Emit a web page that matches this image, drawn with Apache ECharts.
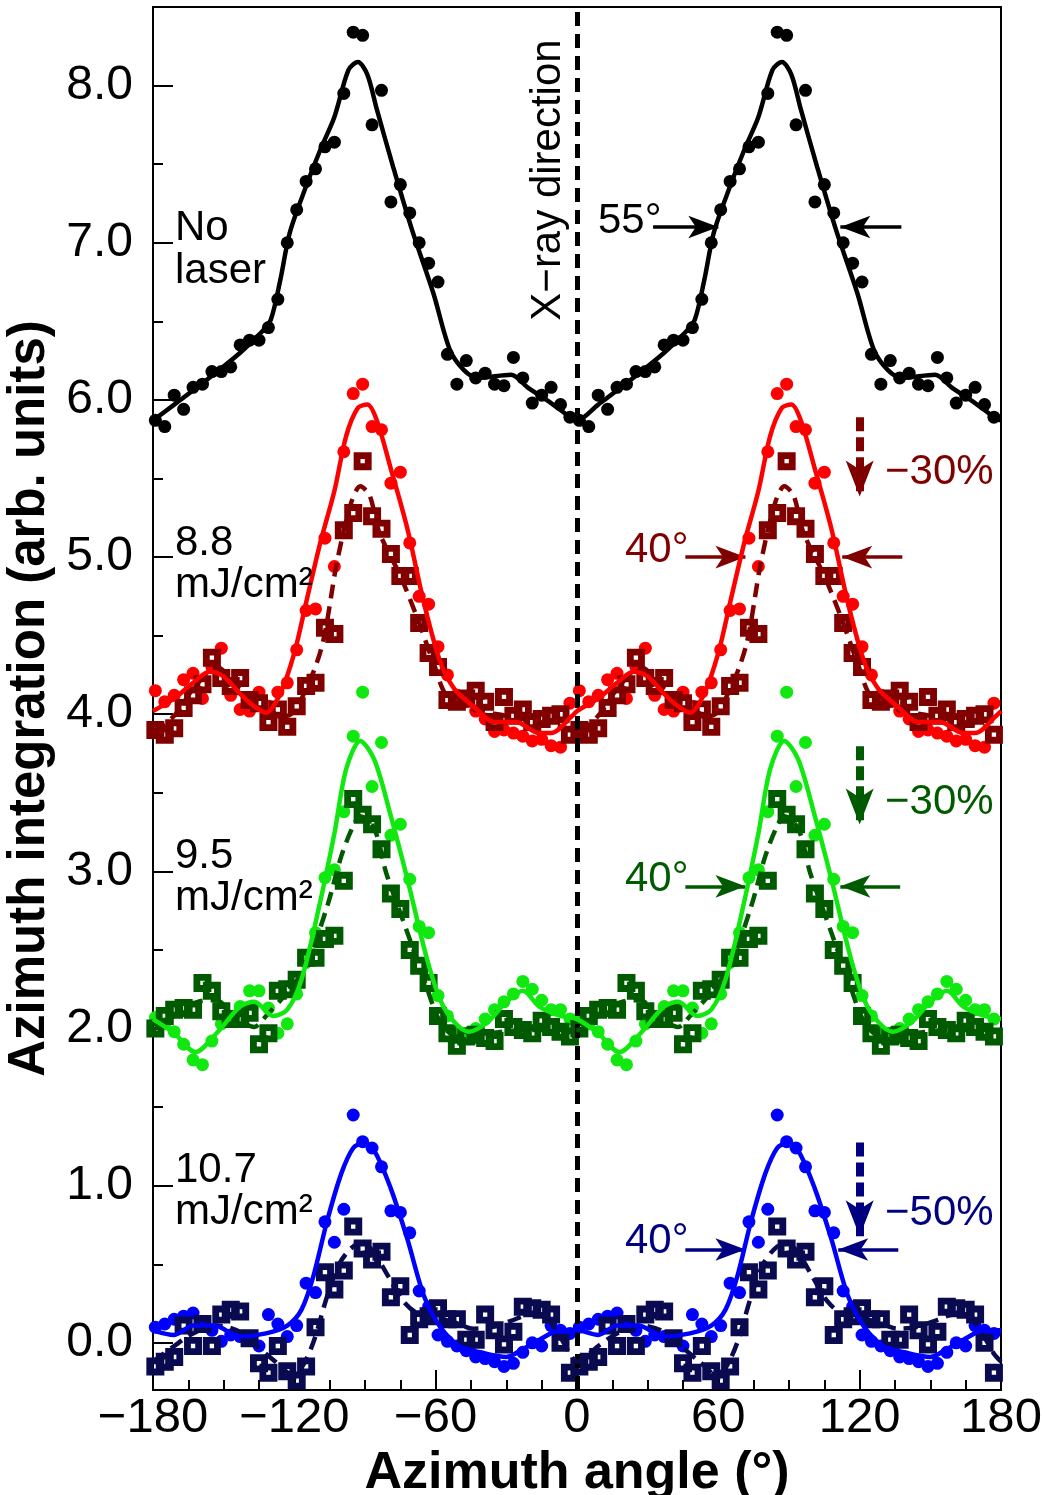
<!DOCTYPE html>
<html><head><meta charset="utf-8">
<script src="https://cdn.jsdelivr.net/npm/echarts@6/dist/echarts.min.js"></script>
<style>html,body{margin:0;padding:0;background:#fff}#c{width:1045px;height:1495px}</style>
</head><body><div id="c"></div>
<script>
// ---- data ----
const ANGLES = [-179,-175,-171,-167,-163,-159,-155,-151,-147,-143,-139,-135,-131,-127,-123,-119,-115,-111,-107,-103,-99,-95,-91,-87,-83,-79,-75,-71,-67,-63,-59,-55,-51,-47,-43,-39,-35,-31,-27,-23,-19,-15,-11,-7,-3,
 1,5,9,13,17,21,25,29,33,37,41,45,49,53,57,61,65,69,73,77,81,85,89,93,97,101,105,109,113,117,121,125,129,133,137,141,145,149,153,157,161,165,169,173,177];
const X_TICKS = [-180,-120,-60,0,60,120,180];
const Y_TICKS = [0,1,2,3,4,5,6,7,8];

const NO_LASER = [5.87,5.83,6.03,5.94,6.08,6.10,6.18,6.18,6.21,6.35,6.38,6.38,6.46,6.64,7.00,7.21,7.39,7.47,7.61,7.64,7.95,8.34,8.32,7.75,7.97,7.26,7.37,7.19,7.00,6.87,6.75,6.29,6.10,6.25,6.14,6.17,6.10,6.09,6.27,6.14,5.98,6.03,6.08,5.97,5.89,
 5.87,5.83,6.03,5.94,6.08,6.10,6.18,6.18,6.21,6.35,6.38,6.38,6.46,6.64,7.00,7.21,7.39,7.47,7.61,7.64,7.95,8.34,8.32,7.75,7.97,7.26,7.37,7.19,7.00,6.87,6.75,6.29,6.10,6.25,6.14,6.17,6.10,6.09,6.27,6.14,5.98,6.03,6.08,5.97,5.89];
const F88_BEFORE = [4.15,4.08,4.12,4.22,4.26,4.10,4.30,4.42,4.12,4.03,4.02,4.14,4.05,4.14,4.20,4.41,4.66,4.67,5.12,4.94,5.67,6.04,6.10,5.83,5.81,5.47,5.54,5.09,4.75,4.70,4.43,4.25,4.12,4.08,4.02,3.97,3.89,3.90,3.88,3.86,3.83,3.84,3.80,3.79,4.07,
 4.15,4.08,4.12,4.22,4.26,4.10,4.30,4.42,4.12,4.03,4.02,4.14,4.05,4.14,4.20,4.41,4.66,4.67,5.12,4.94,5.67,6.04,6.10,5.83,5.81,5.47,5.54,5.09,4.75,4.70,4.43,4.25,4.12,4.08,4.02,3.97,3.89,3.90,3.88,3.86,3.83,3.84,3.80,3.79,4.07];
const F88_AFTER = [3.90,3.87,3.91,4.04,4.12,4.19,4.36,4.23,4.18,4.23,4.09,4.07,3.95,4.03,3.92,4.05,4.18,4.20,4.55,4.51,5.17,5.28,5.61,5.26,5.18,5.02,4.88,4.88,4.58,4.39,4.30,4.09,4.08,4.10,4.15,4.08,3.95,4.11,3.99,4.03,3.95,3.97,3.99,4.00,3.87,
 3.90,3.87,3.91,4.04,4.12,4.19,4.36,4.23,4.18,4.23,4.09,4.07,3.95,4.03,3.92,4.05,4.18,4.20,4.55,4.51,5.17,5.28,5.61,5.26,5.18,5.02,4.88,4.88,4.58,4.39,4.30,4.09,4.08,4.10,4.15,4.08,3.95,4.11,3.99,4.03,3.95,3.97,3.99,4.00,3.87];
const F95_BEFORE = [2.07,2.03,1.98,1.90,1.80,1.77,1.92,2.03,2.07,2.14,2.24,2.24,2.13,1.97,2.03,2.22,2.42,2.61,2.96,3.01,3.38,3.86,4.14,3.54,3.82,3.23,3.30,2.95,2.65,2.61,2.21,2.08,1.98,1.97,2.00,2.06,2.12,2.17,2.22,2.30,2.25,2.18,2.12,2.12,2.06,
 2.07,2.03,1.98,1.90,1.80,1.77,1.92,2.03,2.07,2.14,2.24,2.24,2.13,1.97,2.03,2.22,2.42,2.61,2.96,3.01,3.38,3.86,4.14,3.54,3.82,3.23,3.30,2.95,2.65,2.61,2.21,2.08,1.98,1.97,2.00,2.06,2.12,2.17,2.22,2.30,2.25,2.18,2.12,2.12,2.06];
const F95_AFTER = [2.00,2.08,2.12,2.13,2.12,2.29,2.24,2.11,2.06,2.06,2.10,1.90,1.97,2.24,2.25,2.31,2.45,2.45,2.57,2.59,2.94,3.46,3.36,3.30,3.14,2.86,2.76,2.50,2.40,2.29,2.08,1.97,1.89,1.95,1.96,1.94,1.92,2.06,2.01,1.99,1.97,2.05,2.01,1.98,1.95,
 2.00,2.08,2.12,2.13,2.12,2.29,2.24,2.11,2.06,2.06,2.10,1.90,1.97,2.24,2.25,2.31,2.45,2.45,2.57,2.59,2.94,3.46,3.36,3.30,3.14,2.86,2.76,2.50,2.40,2.29,2.08,1.97,1.89,1.95,1.96,1.94,1.92,2.06,2.01,1.99,1.97,2.05,2.01,1.98,1.95];
const F107_BEFORE = [0.10,0.12,0.15,0.17,0.19,0.13,0.08,0.01,0.05,0.04,0.03,-0.02,0.18,0.12,0.04,0.11,0.38,0.32,0.77,0.64,0.85,1.45,1.28,1.24,1.12,0.84,0.83,0.70,0.33,0.23,0.05,0.01,-0.02,-0.05,-0.09,-0.10,-0.12,-0.15,-0.13,-0.06,0.00,-0.02,0.11,0.08,0.06,
 0.10,0.12,0.15,0.17,0.19,0.13,0.08,0.01,0.05,0.04,0.03,-0.02,0.18,0.12,0.04,0.11,0.38,0.32,0.77,0.64,0.85,1.45,1.28,1.24,1.12,0.84,0.83,0.70,0.33,0.23,0.05,0.01,-0.02,-0.05,-0.09,-0.10,-0.12,-0.15,-0.13,-0.06,0.00,-0.02,0.11,0.08,0.06];
const F107_AFTER = [-0.15,-0.12,-0.09,0.11,-0.02,0.12,-0.02,0.18,0.21,0.20,0.03,-0.13,-0.19,-0.02,-0.18,-0.24,-0.15,0.10,0.45,0.34,0.46,0.74,0.60,0.53,0.58,0.29,0.36,0.05,0.15,0.17,0.22,0.15,0.15,0.02,0.02,0.18,0.08,-0.01,0.07,0.23,0.22,0.21,0.18,0.00,-0.19,
 -0.15,-0.12,-0.09,0.11,-0.02,0.12,-0.02,0.18,0.21,0.20,0.03,-0.13,-0.19,-0.02,-0.18,-0.24,-0.15,0.10,0.45,0.34,0.46,0.74,0.60,0.53,0.58,0.29,0.36,0.05,0.15,0.17,0.22,0.15,0.15,0.02,0.02,0.18,0.08,-0.01,0.07,0.23,0.22,0.21,0.18,0.00,-0.19];

// fitted curves: [angle, value]
const NO_LASER_FIT = [[-180,5.87],[-171,5.97],[-157,6.13],[-143,6.30],[-134,6.43],[-130,6.51],[-126,6.76],[-122,7.06],[-116,7.32],[-109,7.59],[-103,7.80],[-97,8.10],[-93,8.15],[-89,8.07],[-85,7.85],[-78,7.48],[-70,7.08],[-61,6.68],[-54,6.32],[-48,6.19],[-42,6.14],[-28,6.16],[-21,6.08],[-11,5.98],[-2,5.88],
 [0,5.87],[9,5.97],[23,6.13],[37,6.30],[46,6.43],[50,6.51],[54,6.76],[58,7.06],[64,7.32],[71,7.59],[77,7.80],[83,8.10],[87,8.15],[91,8.07],[95,7.85],[102,7.48],[110,7.08],[119,6.68],[126,6.32],[132,6.19],[138,6.14],[152,6.16],[159,6.08],[169,5.98],[178,5.88],[180,5.87]];
const F88_BEFORE_FIT = [[-180,4.02],[-171,4.10],[-163,4.20],[-156,4.27],[-150,4.24],[-143,4.13],[-137,4.05],[-132,4.01],[-126,4.13],[-120,4.39],[-115,4.71],[-109,5.09],[-103,5.42],[-98,5.77],[-93,5.95],[-89,5.97],[-85,5.87],[-79,5.56],[-72,5.18],[-65,4.71],[-58,4.33],[-52,4.16],[-44,4.05],[-35,3.95],[-26,3.95],[-16,3.88],[-11,3.88],[-2,3.99],
 [0,4.02],[9,4.10],[17,4.20],[24,4.27],[30,4.24],[37,4.13],[43,4.05],[48,4.01],[54,4.13],[60,4.39],[65,4.71],[71,5.09],[77,5.42],[82,5.77],[87,5.95],[91,5.97],[95,5.87],[101,5.56],[108,5.18],[115,4.71],[122,4.33],[128,4.16],[136,4.05],[145,3.95],[154,3.95],[164,3.88],[169,3.88],[178,3.99],[180,4.02]];
const F88_AFTER_FIT = [[-180,3.89],[-171,3.99],[-163,4.16],[-153,4.30],[-143,4.16],[-132,4.03],[-123,3.99],[-115,4.16],[-108,4.45],[-102,4.96],[-96,5.34],[-92,5.45],[-88,5.39],[-84,5.16],[-75,4.88],[-68,4.62],[-61,4.33],[-55,4.11],[-44,4.03],[-30,3.99],[-16,3.95],[-4,3.91],
 [0,3.89],[9,3.99],[17,4.16],[27,4.30],[37,4.16],[48,4.03],[57,3.99],[65,4.16],[72,4.45],[78,4.96],[84,5.34],[88,5.45],[92,5.39],[96,5.16],[105,4.88],[112,4.62],[119,4.33],[125,4.11],[136,4.03],[150,3.99],[164,3.95],[176,3.91],[180,3.89]];
const F95_BEFORE_FIT = [[-180,2.06],[-171,1.97],[-162,1.85],[-153,1.97],[-143,2.14],[-137,2.17],[-129,2.08],[-123,2.12],[-117,2.31],[-110,2.74],[-103,3.24],[-98,3.65],[-92,3.83],[-86,3.71],[-79,3.35],[-72,2.95],[-64,2.46],[-58,2.18],[-52,2.04],[-46,1.98],[-38,2.04],[-30,2.17],[-23,2.24],[-16,2.14],[-7,2.08],
 [0,2.06],[9,1.97],[18,1.85],[27,1.97],[37,2.14],[43,2.17],[51,2.08],[57,2.12],[63,2.31],[70,2.74],[77,3.24],[82,3.65],[88,3.83],[94,3.71],[101,3.35],[108,2.95],[116,2.46],[122,2.18],[128,2.04],[134,1.98],[142,2.04],[150,2.17],[157,2.24],[164,2.14],[173,2.08],[180,2.06]];
const F95_AFTER_FIT = [[-180,1.99],[-171,2.08],[-161,2.17],[-153,2.18],[-146,2.08],[-137,2.01],[-132,2.08],[-123,2.23],[-115,2.40],[-106,2.78],[-100,3.10],[-95,3.29],[-92,3.35],[-86,3.27],[-81,2.99],[-72,2.61],[-64,2.27],[-58,2.04],[-51,1.95],[-37,1.97],[-23,1.99],[-8,1.99],
 [0,1.99],[9,2.08],[19,2.17],[27,2.18],[34,2.08],[43,2.01],[48,2.08],[57,2.23],[65,2.40],[74,2.78],[80,3.10],[85,3.29],[88,3.35],[94,3.27],[99,2.99],[108,2.61],[116,2.27],[122,2.04],[129,1.95],[143,1.97],[157,1.99],[172,1.99],[180,1.99]];
const F107_BEFORE_FIT = [[-180,0.08],[-171,0.05],[-163,0.11],[-154,0.11],[-143,0.04],[-132,0.06],[-123,0.11],[-117,0.21],[-112,0.42],[-106,0.78],[-100,1.08],[-95,1.24],[-91,1.27],[-86,1.22],[-79,0.98],[-72,0.66],[-65,0.30],[-58,0.10],[-50,-0.02],[-41,-0.06],[-30,-0.09],[-23,-0.04],[-16,0.02],[-7,0.08],
 [0,0.08],[9,0.05],[17,0.11],[26,0.11],[37,0.04],[48,0.06],[57,0.11],[63,0.21],[68,0.42],[74,0.78],[80,1.08],[85,1.24],[89,1.27],[94,1.22],[101,0.98],[108,0.66],[115,0.30],[122,0.10],[130,-0.02],[139,-0.06],[150,-0.09],[157,-0.04],[164,0.02],[173,0.08],[180,0.08]];
const F107_AFTER_FIT = [[-180,-0.12],[-171,-0.02],[-163,0.06],[-153,0.11],[-143,0.07],[-136,-0.02],[-128,-0.12],[-121,-0.20],[-117,-0.16],[-112,0.00],[-106,0.30],[-101,0.50],[-96,0.60],[-91,0.64],[-86,0.57],[-80,0.42],[-74,0.27],[-68,0.19],[-60,0.16],[-52,0.13],[-44,0.09],[-36,0.10],[-28,0.14],[-20,0.18],[-14,0.17],[-8,0.06],[-3,-0.07],
 [0,-0.12],[9,-0.02],[17,0.06],[27,0.11],[37,0.07],[44,-0.02],[52,-0.12],[59,-0.20],[63,-0.16],[68,0.00],[74,0.30],[79,0.50],[84,0.60],[89,0.64],[94,0.57],[100,0.42],[106,0.27],[112,0.19],[120,0.16],[128,0.13],[136,0.09],[144,0.10],[152,0.14],[160,0.18],[166,0.17],[172,0.06],[177,-0.07],[180,-0.12]];

// annotation anchors in data units (angle, value): [start, tip]
const WIDTH_ARROWS = {
  black: {y: 7.10, left: [32.3, 60.0], right: [137.7, 111.8]},
  red:   {y: 5.00, left: [46.0, 71.5], right: [138.1, 112.6]},
  green: {y: 2.905, left: [46.0, 71.5], right: [137.2, 111.8]},
  blue:  {y: 0.594, left: [46.0, 71.5], right: [136.4, 110.9]}
};
const DROP_ARROWS = { x: 120.0, red: [5.89, 5.385], green: [3.796, 3.298], blue: [1.275, 0.678] };

// ---- styling ----
const FONT = '"Liberation Sans", Arial, Helvetica, sans-serif';
const C = {
  black: '#000000', red: '#ff0000', darkred: '#800000',
  lime: '#10e810', darkgreen: '#005a00', blue: '#0000ff', navy: '#0a0a50',
  annRed: '#800000', annGreen: '#005a00', annBlue: '#000080'
};
const SQUARE = 'path://M0,0H10V10H0Z M3.8,3.8V6.2H6.2V3.8Z';

function pts(values) { return ANGLES.map((a, i) => [a, values[i]]); }
function hArrows(a) {
  return [
    [{coord: [a.left[0], a.y], symbol: 'none'}, {coord: [a.left[1], a.y], symbol: 'arrow'}],
    [{coord: [a.right[0], a.y], symbol: 'none'}, {coord: [a.right[1], a.y], symbol: 'arrow'}]
  ];
}
function solidMark(a, color) {
  return { silent: true, animation: false, symbolSize: [17, 30], label: {show: false},
    lineStyle: {color: color, width: 3.5, type: 'solid'}, emphasis: {disabled: true}, data: hArrows(a) };
}
function dropMark(seg, color) {
  return { silent: true, animation: false, symbolSize: [21, 36], label: {show: false},
    lineStyle: {color: color, width: 8, type: [14, 6]}, emphasis: {disabled: true},
    data: [[{coord: [DROP_ARROWS.x, seg[0]], symbol: 'none'}, {coord: [DROP_ARROWS.x, seg[1]], symbol: 'arrow'}]] };
}
function dots(name, values, color, z, markLine) {
  const s = { name, type: 'scatter', data: pts(values), symbol: 'circle', symbolSize: 13,
    itemStyle: {color: color, opacity: 1}, z: z, silent: true };
  if (markLine) s.markLine = markLine;
  return s;
}
function squares(name, values, color, z, markLine) {
  const s = { name, type: 'scatter', data: pts(values), symbol: SQUARE, symbolSize: 18,
    itemStyle: {color: color, opacity: 1}, z: z, silent: true };
  if (markLine) s.markLine = markLine;
  return s;
}
function fit(name, pairs, color, dashed, z) {
  return { name, type: 'line', data: pairs, smooth: 0.3, showSymbol: false, symbol: 'none',
    lineStyle: {color: color, width: 4.5, type: dashed ? [14, 8] : 'solid', cap: 'butt'}, z: z, silent: true };
}

const chart = echarts.init(document.getElementById('c'), null, {renderer: 'canvas'});
const option = {
  animation: false,
  backgroundColor: '#ffffff',
  grid: {left: 153, right: 44, top: 7, bottom: 105, show: true, borderColor: '#000', borderWidth: 2,
         containLabel: false, outerBoundsMode: 'none'},
  xAxis: [{
    type: 'value', min: X_TICKS[0], max: X_TICKS[X_TICKS.length - 1], interval: 60, position: 'bottom',
    axisLine: {show: true, onZero: false, lineStyle: {color: '#000', width: 2}},
    axisTick: {show: true, inside: true, length: 20, lineStyle: {color: '#000', width: 2}},
    minorTick: {show: true, splitNumber: 4, length: 10, lineStyle: {color: '#000', width: 2}},
    splitLine: {show: false}, minorSplitLine: {show: false},
    axisLabel: {fontSize: 49, fontFamily: FONT, color: '#000', margin: 4,
      formatter: v => (v < 0 ? '\u2212' + Math.abs(v) : String(v))},
    name: 'Azimuth angle (\u00b0)', nameLocation: 'middle', nameGap: 48,
    nameTextStyle: {fontSize: 52, fontWeight: 'bold', fontFamily: FONT, color: '#000'}
  }],
  yAxis: [{
    type: 'value', min: -0.3, max: 8.5, splitNumber: 9, minInterval: 1, maxInterval: 1, position: 'left',
    axisLine: {show: true, onZero: false, lineStyle: {color: '#000', width: 2}},
    axisTick: {show: true, inside: true, length: 20, lineStyle: {color: '#000', width: 2}},
    splitLine: {show: false},
    axisLabel: {fontSize: 48, fontFamily: FONT, color: '#000', margin: 20, showMinLabel: false, showMaxLabel: false,
      formatter: v => (Y_TICKS.indexOf(Math.round(v * 10) / 10) >= 0 ? v.toFixed(1) : '')},
    name: 'Azimuth integration (arb. units)', nameLocation: 'middle', nameGap: 92, nameRotate: 90,
    nameTextStyle: {fontSize: 51, fontWeight: 'bold', fontFamily: FONT, color: '#000'}
  }, {
    type: 'value', min: -0.3, max: 8.5, splitNumber: 18, minInterval: 0.5, maxInterval: 0.5, position: 'left',
    axisLine: {show: false, onZero: false}, axisLabel: {show: false}, splitLine: {show: false},
    axisTick: {show: true, inside: true, length: 10, lineStyle: {color: '#000', width: 2}}
  }],
  series: [
    dots('No laser', NO_LASER, C.black, 5, solidMark(WIDTH_ARROWS.black, C.black)),
    fit('No laser fit', NO_LASER_FIT, C.black, false, 6),

    dots('8.8 before', F88_BEFORE, C.red, 3, solidMark(WIDTH_ARROWS.red, C.annRed)),
    squares('8.8 after', F88_AFTER, C.darkred, 4, dropMark(DROP_ARROWS.red, C.annRed)),
    fit('8.8 after fit', F88_AFTER_FIT, C.darkred, true, 5),
    fit('8.8 before fit', F88_BEFORE_FIT, C.red, false, 6),

    dots('9.5 before', F95_BEFORE, C.lime, 3, solidMark(WIDTH_ARROWS.green, C.annGreen)),
    squares('9.5 after', F95_AFTER, C.darkgreen, 4, dropMark(DROP_ARROWS.green, C.annGreen)),
    fit('9.5 after fit', F95_AFTER_FIT, C.darkgreen, true, 5),
    fit('9.5 before fit', F95_BEFORE_FIT, C.lime, false, 6),

    dots('10.7 before', F107_BEFORE, C.blue, 3, solidMark(WIDTH_ARROWS.blue, C.annBlue)),
    squares('10.7 after', F107_AFTER, C.navy, 4, dropMark(DROP_ARROWS.blue, C.annBlue)),
    fit('10.7 after fit', F107_AFTER_FIT, C.navy, true, 5),
    fit('10.7 before fit', F107_BEFORE_FIT, C.blue, false, 6),

    { name: 'X-ray direction', type: 'line', data: [], silent: true, z: 7,
      markLine: { silent: true, animation: false, symbol: ['none', 'none'], label: {show: false},
        lineStyle: {color: '#000', width: 5, type: [14, 8]}, emphasis: {disabled: true},
        data: [{xAxis: 0}] } }
  ]
};
chart.setOption(option);

function txt(text, x, y, color, extra) {
  return Object.assign({ type: 'text', x: x, y: y, silent: true, z: 100,
    style: {text: text, font: '42px ' + FONT, fill: color, align: 'left', verticalAlign: 'middle'} }, extra || {});
}
chart.setOption({ graphic: { elements: [
  txt('No', 175, 228, '#000'), txt('laser', 175, 271, '#000'),
  txt('8.8', 175, 543, '#000'), txt('mJ/cm\u00b2', 175, 585, '#000'),
  txt('9.5', 175, 856, '#000'), txt('mJ/cm\u00b2', 175, 898, '#000'),
  txt('10.7', 175, 1170, '#000'), txt('mJ/cm\u00b2', 175, 1212, '#000'),
  txt('55\u00b0', 598, 221, '#000'),
  txt('40\u00b0', 625, 550, C.annRed), txt('\u221230%', 885, 472, C.annRed),
  txt('40\u00b0', 625, 879, C.annGreen), txt('\u221230%', 885, 802, C.annGreen),
  txt('40\u00b0', 625, 1241, C.annBlue), txt('\u221250%', 885, 1213, C.annBlue),
  { type: 'text', x: 548, y: 180, rotation: Math.PI / 2, silent: true, z: 100,
    style: {text: 'X\u2212ray direction', font: '42px ' + FONT, fill: '#000', align: 'center', verticalAlign: 'middle'} }
] } });
</script></body></html>
